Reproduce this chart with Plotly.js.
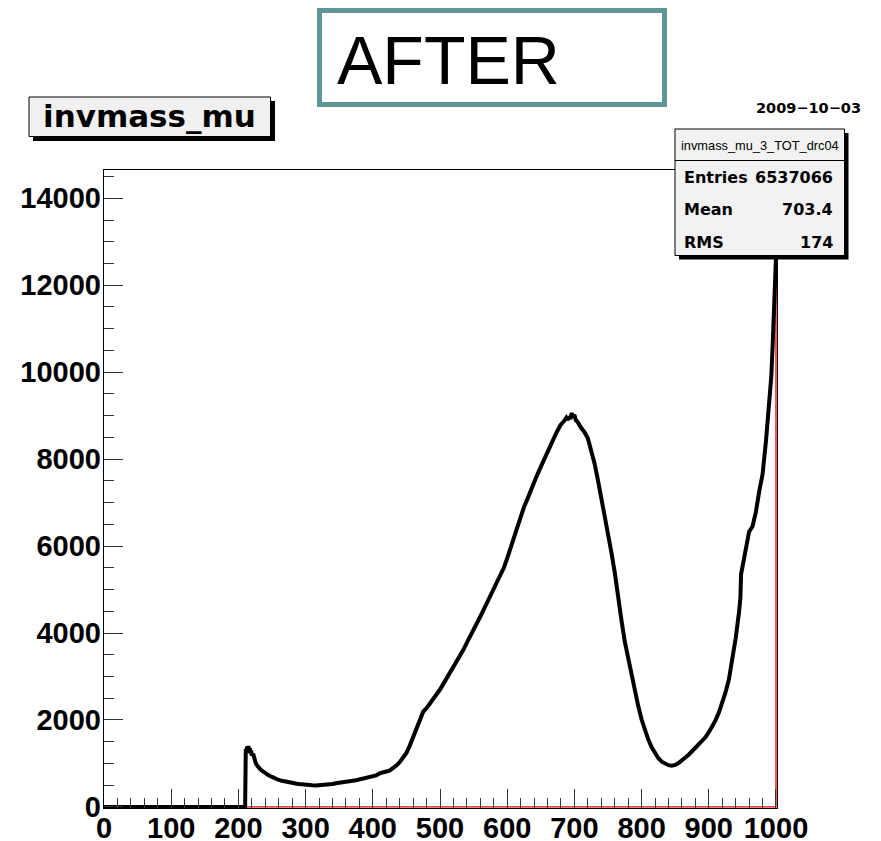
<!DOCTYPE html>
<html>
<head>
<meta charset="utf-8">
<script src="https://cdn.plot.ly/plotly-3.0.1.min.js"></script>
<style>
  html, body { margin: 0; padding: 0; background: #fff; }
  #chart { width: 881px; height: 841px; }
</style>
</head>
<body>
<div id="chart"></div>
<script>
// invariant mass histogram (bin position, counts)
const massBins = [
  0, 210, 211, 212, 213, 214, 215, 216, 217, 218, 219, 220, 222, 224, 226, 228, 230, 233, 236, 240,
  245, 250, 255, 260, 265, 270, 275, 280, 285, 290, 295, 300, 305, 310, 315, 320, 325, 330, 335, 340,
  345, 350, 355, 360, 365, 370, 375, 380, 385, 390, 395, 400, 405, 410, 415, 420, 425, 430, 435, 440,
  445, 450, 455, 460, 465, 470, 475, 480, 485, 490, 495, 500, 505, 510, 515, 520, 525, 530, 535, 540,
  545, 550, 555, 560, 565, 570, 575, 580, 585, 590, 595, 600, 605, 610, 615, 620, 625, 630, 635, 640,
  645, 650, 655, 660, 665, 670, 675, 680, 685, 688, 690, 692, 694, 696, 698, 700, 702, 705, 710, 715,
  720, 725, 730, 735, 740, 745, 750, 755, 760, 765, 770, 775, 780, 785, 790, 795, 800, 805, 810, 815,
  820, 825, 830, 835, 840, 845, 850, 855, 860, 865, 870, 875, 880, 885, 890, 895, 900, 905, 910, 915,
  920, 925, 930, 935, 940, 945, 947, 948, 950, 955, 960, 965, 970, 975, 980, 985, 988, 990, 993, 995,
  997, 998, 999, 1000
];
const counts = [
  0, 0, 1340, 1250, 1390, 1300, 1400, 1280, 1350, 1230, 1300, 1180, 1220, 1080, 1000, 950, 905, 860, 820, 770,
  730, 690, 650, 620, 600, 580, 565, 550, 540, 528, 515, 505, 500, 497, 492, 495, 497, 502, 515, 528,
  545, 552, 565, 578, 588, 600, 615, 632, 648, 665, 680, 700, 725, 770, 800, 815, 835, 880, 950, 1030,
  1120, 1240, 1410, 1610, 1830, 2040, 2190, 2270, 2370, 2490, 2590, 2700, 2830, 2960, 3080, 3200, 3340, 3480, 3620, 3780,
  3920, 4060, 4220, 4380, 4540, 4700, 4840, 4990, 5150, 5320, 5500, 5720, 5950, 6180, 6450, 6700, 6900, 7080, 7290, 7480,
  7650, 7820, 8000, 8160, 8330, 8500, 8660, 8800, 8880, 8950, 8900, 8980, 8920, 9060, 8960, 9020, 8900, 8850, 8720, 8620,
  8480, 8200, 7900, 7520, 7130, 6720, 6330, 5860, 5400, 4800, 4300, 3800, 3400, 3020, 2650, 2320, 2010, 1760, 1550, 1370,
  1230, 1120, 1040, 990, 960, 950, 965, 1010, 1070, 1130, 1200, 1280, 1360, 1430, 1510, 1600, 1720, 1850, 1990, 2170,
  2380, 2640, 2940, 3380, 3880, 4480, 4800, 5350, 5500, 5950, 6330, 6450, 6780, 7250, 7650, 8400, 8900, 9250, 9900, 10600,
  11300, 11700, 12200, 12650
];
const xTickVals = [0, 100, 200, 300, 400, 500, 600, 700, 800, 900, 1000];
const yTickVals = [0, 2000, 4000, 6000, 8000, 10000, 12000, 14000];

const histTitle = 'invmass_mu';
const canvasLabel = 'AFTER';
const dateLabel = '2009\u221210\u221203';
const statsName = 'invmass_mu_3_TOT_drc04';
const statLabels = ['Entries', 'Mean', 'RMS'];
const statValues = ['6537066', '703.4', '174'];

// frame geometry in pixels
const L = 104, R = 777, T = 170, B = 808;
const fx = p => (p - L) / (R - L);
const fy = p => (B - p) / (B - T);

// second (empty-bin) histogram outline, drawn in red from the first filled bin
const onsetIdx = counts.findIndex(v => v > 0);
const lastX = massBins[massBins.length - 1];
const lastY = counts[counts.length - 1];
const redOutline = {
  x: [massBins[onsetIdx - 1], lastX, lastX],
  y: [0, 0, lastY],
  mode: 'lines', line: { color: '#e00000', width: 1.3 },
  hoverinfo: 'skip', showlegend: false
};
const hist = {
  x: massBins, y: counts,
  mode: 'lines', line: { color: '#000', width: 4, shape: 'linear' },
  showlegend: false
};

const tickFont = { family: 'Liberation Sans, Arial, sans-serif', size: 29, color: '#000', weight: 'bold' };

const shapes = [
  // canvas label box
  { type: 'rect', xref: 'paper', yref: 'paper', x0: fx(319.5), x1: fx(664.5), y0: fy(10.5), y1: fy(104.5),
    line: { color: 'rgb(95,150,150)', width: 5 }, fillcolor: '#fff', layer: 'above' },
  // title box with shadow
  { type: 'rect', xref: 'paper', yref: 'paper', x0: fx(33), x1: fx(275), y0: fy(101), y1: fy(141),
    line: { width: 0 }, fillcolor: '#000', layer: 'above' },
  { type: 'rect', xref: 'paper', yref: 'paper', x0: fx(29), x1: fx(270.5), y0: fy(97), y1: fy(136.5),
    line: { color: '#000', width: 1 }, fillcolor: '#f0f0f0', layer: 'above' },
  // stats box with shadow
  { type: 'rect', xref: 'paper', yref: 'paper', x0: fx(679), x1: fx(848.5), y0: fy(133), y1: fy(259.5),
    line: { width: 0 }, fillcolor: '#000', layer: 'above' },
  { type: 'rect', xref: 'paper', yref: 'paper', x0: fx(675), x1: fx(844.5), y0: fy(129), y1: fy(255.5),
    line: { color: '#000', width: 1 }, fillcolor: '#f2f2f2', layer: 'above' },
  { type: 'line', xref: 'paper', yref: 'paper', x0: fx(675), x1: fx(844.5), y0: fy(160.5), y1: fy(160.5),
    line: { color: '#000', width: 1 }, layer: 'above' }
];

const statFont = { family: 'DejaVu Sans, sans-serif', size: 16, color: '#000', weight: 'bold' };
const rowCenters = [177.5, 209.5, 242.5];
const annotations = [
  { text: canvasLabel, x: fx(335), y: fy(60), xanchor: 'left', yanchor: 'middle',
    font: { family: 'Liberation Sans, Arial, sans-serif', size: 68, color: '#000' } },
  { text: histTitle, x: fx(149.5), y: fy(116), xanchor: 'center', yanchor: 'middle',
    font: { family: 'DejaVu Sans, sans-serif', size: 31, color: '#000', weight: 'bold' } },
  { text: dateLabel, x: fx(863), y: fy(108), xanchor: 'right', yanchor: 'middle',
    font: { family: 'DejaVu Sans, sans-serif', size: 14.5, color: '#000', weight: 'bold' } },
  { text: statsName, x: fx(759.5), y: fy(145), xanchor: 'center', yanchor: 'middle',
    font: { family: 'Liberation Sans, Arial, sans-serif', size: 12.8, color: '#000' } }
];
statLabels.forEach((lab, i) => {
  annotations.push({ text: lab, x: fx(682), y: fy(rowCenters[i]), xanchor: 'left', yanchor: 'middle', font: statFont });
  annotations.push({ text: statValues[i], x: fx(835), y: fy(rowCenters[i]), xanchor: 'right', yanchor: 'middle', font: statFont });
});
annotations.forEach(a => { a.xref = 'paper'; a.yref = 'paper'; a.showarrow = false; });

const layout = {
  width: 881, height: 841,
  margin: { l: L, r: 881 - R, t: T, b: 841 - B, pad: 0 },
  paper_bgcolor: '#fff', plot_bgcolor: '#fff',
  showlegend: false,
  xaxis: {
    range: [0, 1001.5], showgrid: false, zeroline: false,
    showline: true, linecolor: '#000', linewidth: 1.2, mirror: true,
    tickvals: xTickVals, ticktext: xTickVals.map(String),
    ticks: 'inside', ticklen: 19, tickwidth: 1, tickcolor: '#333',
    minor: { dtick: 20, tick0: 0, ticks: 'inside', ticklen: 10, tickwidth: 1, tickcolor: '#333', showgrid: false },
    tickfont: tickFont, ticklabelstandoff: -6
  },
  yaxis: {
    range: [-25, 14650], showgrid: false, zeroline: false,
    showline: true, linecolor: '#000', linewidth: 1.2, mirror: true,
    tickvals: yTickVals, ticktext: yTickVals.map(String),
    ticks: 'inside', ticklen: 19, tickwidth: 1, tickcolor: '#333',
    minor: { dtick: 500, tick0: 0, ticks: 'inside', ticklen: 10, tickwidth: 1, tickcolor: '#333', showgrid: false },
    tickfont: tickFont, ticklabelstandoff: -4
  },
  shapes: shapes,
  annotations: annotations
};

Plotly.newPlot('chart', [redOutline, hist], layout, { displayModeBar: false, staticPlot: true });
</script>
</body>
</html>
